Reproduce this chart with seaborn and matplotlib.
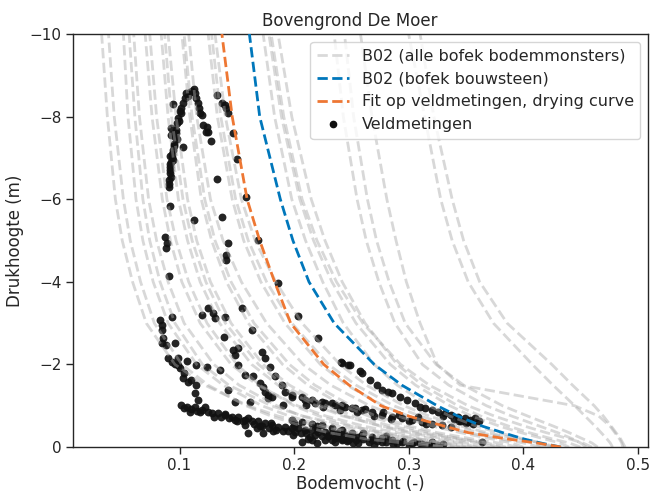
import matplotlib
matplotlib.use("Agg")
import matplotlib.pyplot as plt
import seaborn as sns
import pandas as pd
from matplotlib.lines import Line2D

# ---------------- data ----------------
# pressure heads (m) at which the retention curves were read
heads = [0, -0.1, -0.2, -0.35, -0.5, -0.75, -1, -1.5, -2, -3, -4, -5, -6, -8, -10]

# B02 bofek bouwsteen (blue) and field fit (orange): soil moisture at the heads above
bouwsteen = [0.433, 0.415, 0.400, 0.382, 0.365, 0.343, 0.325, 0.294, 0.270, 0.235, 0.213, 0.199, 0.188, 0.170, 0.161]
fit_veld = [0.433, 0.412, 0.385, 0.352, 0.332, 0.300, 0.276, 0.248, 0.226, 0.197, 0.183, 0.170, 0.159, 0.146, 0.137]

# B02, all bofek soil samples (grey curves)
gA1 = [0.330, 0.310, 0.285, 0.250, 0.222, 0.186, 0.160, 0.122, 0.096, 0.071, 0.059, 0.050, 0.044, 0.037, 0.032]
gA2 = [0.330, 0.295, 0.262, 0.230, 0.208, 0.180, 0.158, 0.125, 0.102, 0.078, 0.066, 0.057, 0.051, 0.043, 0.038]
gA3 = [0.345, 0.320, 0.292, 0.255, 0.228, 0.196, 0.172, 0.138, 0.115, 0.090, 0.077, 0.068, 0.062, 0.055, 0.051]
gA4 = [0.340, 0.328, 0.310, 0.280, 0.250, 0.208, 0.180, 0.143, 0.120, 0.096, 0.083, 0.074, 0.068, 0.061, 0.056]
gA5 = [0.355, 0.335, 0.305, 0.268, 0.240, 0.207, 0.185, 0.152, 0.130, 0.104, 0.090, 0.080, 0.073, 0.065, 0.060]
gB1 = [0.360, 0.345, 0.322, 0.290, 0.262, 0.228, 0.203, 0.168, 0.145, 0.118, 0.102, 0.092, 0.085, 0.076, 0.070]
gB2 = [0.350, 0.330, 0.305, 0.275, 0.252, 0.222, 0.200, 0.170, 0.150, 0.124, 0.108, 0.097, 0.089, 0.080, 0.074]
gB3 = [0.375, 0.360, 0.338, 0.305, 0.278, 0.243, 0.219, 0.186, 0.163, 0.135, 0.118, 0.107, 0.099, 0.090, 0.084]
gB4 = [0.365, 0.350, 0.330, 0.300, 0.276, 0.245, 0.223, 0.191, 0.169, 0.140, 0.123, 0.111, 0.103, 0.093, 0.087]
gB5 = [0.385, 0.368, 0.345, 0.312, 0.286, 0.252, 0.228, 0.196, 0.173, 0.145, 0.127, 0.115, 0.107, 0.097, 0.090]
gC1 = [0.380, 0.365, 0.345, 0.318, 0.295, 0.265, 0.243, 0.212, 0.190, 0.160, 0.141, 0.128, 0.119, 0.109, 0.102]
gC2 = [0.395, 0.378, 0.355, 0.325, 0.302, 0.272, 0.250, 0.218, 0.196, 0.165, 0.145, 0.131, 0.122, 0.111, 0.104]
gC3 = [0.400, 0.390, 0.372, 0.345, 0.322, 0.290, 0.266, 0.232, 0.208, 0.176, 0.154, 0.138, 0.127, 0.115, 0.108]
gC4 = [0.415, 0.400, 0.380, 0.352, 0.330, 0.300, 0.278, 0.246, 0.223, 0.192, 0.171, 0.156, 0.146, 0.133, 0.125]
gC5 = [0.420, 0.408, 0.390, 0.362, 0.340, 0.310, 0.287, 0.254, 0.230, 0.198, 0.176, 0.160, 0.149, 0.136, 0.128]
gC6 = [0.430, 0.415, 0.395, 0.368, 0.347, 0.318, 0.296, 0.263, 0.240, 0.207, 0.184, 0.166, 0.154, 0.140, 0.131]
gD1 = [0.425, 0.415, 0.400, 0.378, 0.360, 0.336, 0.318, 0.290, 0.270, 0.243, 0.225, 0.210, 0.198, 0.183, 0.173]
gD2 = [0.440, 0.432, 0.418, 0.398, 0.380, 0.355, 0.336, 0.306, 0.284, 0.254, 0.233, 0.217, 0.205, 0.189, 0.178]
gD3 = [0.460, 0.452, 0.440, 0.420, 0.402, 0.375, 0.352, 0.318, 0.293, 0.260, 0.237, 0.220, 0.207, 0.191, 0.180]
gD4 = [0.450, 0.440, 0.425, 0.405, 0.388, 0.363, 0.343, 0.312, 0.290, 0.262, 0.242, 0.227, 0.215, 0.198, 0.186]
gE1 = [0.455, 0.450, 0.443, 0.430, 0.415, 0.390, 0.368, 0.335, 0.312, 0.288, 0.274, 0.263, 0.255, 0.243, 0.235]
gE2 = [0.465, 0.460, 0.452, 0.440, 0.427, 0.404, 0.382, 0.348, 0.324, 0.297, 0.283, 0.272, 0.264, 0.252, 0.244]
gE3 = [0.487, 0.486, 0.484, 0.480, 0.476, 0.466, 0.445, 0.345, 0.325, 0.310, 0.298, 0.289, 0.281, 0.268, 0.258]
gE4 = [0.478, 0.476, 0.473, 0.468, 0.463, 0.454, 0.445, 0.426, 0.408, 0.374, 0.352, 0.338, 0.328, 0.314, 0.300]
gE5 = [0.489, 0.487, 0.485, 0.481, 0.477, 0.470, 0.462, 0.443, 0.425, 0.386, 0.362, 0.348, 0.338, 0.322, 0.310]
grey_curves = [gA1, gA2, gA3, gA4, gA5, gB1, gB2, gB3, gB4, gB5, gC1, gC2, gC3, gC4, gC5, gC6,
               gD1, gD2, gD3, gD4, gE1, gE2, gE3, gE4, gE5]

# field measurements (Veldmetingen), grouped by region of the plot
peak_x = [0.1125, 0.1060, 0.1046, 0.1032, 0.1017, 0.1011, 0.0989, 0.0974, 0.0965, 0.0959, 0.0954, 0.0945,
          0.0930, 0.0924, 0.0915, 0.0915, 0.0910, 0.0910, 0.0945, 0.0924, 0.0924, 0.0921, 0.1026, 0.1000,
          0.0970, 0.0935, 0.0920, 0.0912, 0.1134, 0.1148, 0.1157, 0.1169, 0.1177, 0.1192, 0.1207, 0.1236,
          0.1251, 0.1227, 0.1273, 0.1110, 0.1090, 0.1075, 0.0995, 0.0980, 0.0950, 0.0940, 0.0928, 0.0918]
peak_y = [-8.67, -8.57, -8.45, -8.33, -8.20, -8.08, -7.96, -7.84, -7.68, -7.52, -7.35, -7.19,
          -7.03, -6.91, -6.79, -6.63, -6.46, -6.30, -8.31, -7.72, -7.56, -7.05, -7.27, -8.14,
          -7.60, -7.10, -6.70, -6.38, -8.57, -8.45, -8.33, -8.20, -8.08, -8.04, -7.80, -7.76,
          -7.64, -7.64, -7.40, -8.62, -8.60, -8.50, -7.90, -7.45, -7.30, -6.95, -6.55, -6.85]

upper_x = [0.1329, 0.1367, 0.1396, 0.1410, 0.1425, 0.1463, 0.1504, 0.1323, 0.1367, 0.1128, 0.1579, 0.1686,
           0.0915, 0.0872, 0.0892, 0.0880, 0.0910, 0.1425, 0.1402, 0.1402, 0.1856, 0.2037, 0.2211,
           0.2409, 0.2473, 0.2575]
upper_y = [-8.53, -8.33, -8.28, -8.20, -8.08, -7.61, -6.97, -6.49, -5.58, -5.49, -6.06, -5.01,
           -5.83, -5.09, -4.94, -4.82, -4.15, -4.93, -4.66, -4.54, -3.97, -3.18, -2.64,
           -2.07, -1.99, -1.83]

middle_x = [0.0828, 0.0930, 0.0843, 0.1251, 0.1294, 0.1314, 0.1396, 0.1192, 0.1541, 0.1629, 0.1390, 0.0843,
            0.0858, 0.0843, 0.0886, 0.0959, 0.0901, 0.0930, 0.0989, 0.1003, 0.1061, 0.0989, 0.1032, 0.1076,
            0.1148, 0.1134, 0.1163, 0.1148, 0.1236, 0.1352, 0.1425, 0.1483, 0.1469, 0.1483, 0.1507, 0.1513,
            0.1570, 0.1644, 0.1716, 0.1745, 0.1789, 0.1832, 0.1701, 0.1731, 0.1745, 0.1775, 0.1803, 0.1775,
            0.1891, 0.1920, 0.1978, 0.1905, 0.1614, 0.0960, 0.1040, 0.1100]
middle_y = [-3.08, -3.14, -2.96, -3.37, -3.25, -3.12, -3.16, -3.20, -3.37, -2.84, -2.66, -2.84,
            -2.64, -2.52, -2.48, -2.53, -2.15, -2.07, -1.99, -1.91, -2.09, -2.15, -1.67, -1.58,
            -1.50, -1.30, -1.14, -1.99, -1.95, -1.87, -1.38, -1.08, -2.35, -2.23, -2.40, -1.99,
            -1.75, -1.71, -2.31, -2.15, -1.95, -1.71, -1.55, -1.46, -1.34, -1.26, -1.22, -1.18,
            -1.50, -1.34, -1.22, -1.02, -1.10, -2.02, -1.80, -1.62]

near_blue_x = [0.2415, 0.2487, 0.2590, 0.2663, 0.2721, 0.2764, 0.2823, 0.2852, 0.2924, 0.2983, 0.3055, 0.3098,
               0.3142, 0.3200, 0.3258, 0.3316, 0.3374, 0.3432, 0.3490, 0.3535, 0.3440, 0.3500, 0.3560, 0.3614,
               0.3580, 0.3638, 0.3400, 0.3460, 0.3520, 0.3300]
near_blue_y = [-2.03, -1.99, -1.79, -1.63, -1.50, -1.38, -1.34, -1.30, -1.22, -1.14, -1.06, -0.98,
               -0.94, -0.90, -0.86, -0.82, -0.78, -0.74, -0.70, -0.66, -0.62, -0.58, -0.55, -0.63,
               -0.70, -0.13, -0.68, -0.64, -0.60, -0.76]

trail_x = [0.2094, 0.2182, 0.2269, 0.2356, 0.2444, 0.2531, 0.1978, 0.2066, 0.2153, 0.2240, 0.2328, 0.2415,
           0.2502, 0.2590, 0.2677, 0.2764, 0.2852, 0.2939, 0.3026, 0.3113, 0.3200, 0.3288, 0.3374, 0.2100,
           0.2250, 0.2400, 0.2550, 0.2700, 0.2850, 0.3000, 0.3150, 0.2620, 0.2780, 0.2920, 0.3080]
trail_y = [-1.14, -1.06, -1.06, -1.02, -0.98, -0.94, -1.26, -1.22, -1.14, -1.10, -1.06, -1.02,
           -0.94, -0.90, -0.86, -0.78, -0.74, -0.70, -0.66, -0.61, -0.57, -0.53, -0.49, -1.02,
           -0.96, -0.90, -0.84, -0.76, -0.68, -0.62, -0.55, -0.92, -0.84, -0.78, -0.72]

low_x = [0.1017, 0.1061, 0.1090, 0.1134, 0.1177, 0.1221, 0.1280, 0.1338, 0.1396, 0.1454, 0.1513, 0.1570,
         0.1629, 0.1687, 0.1745, 0.1803, 0.1862, 0.1920, 0.1978, 0.2037, 0.2094, 0.2153, 0.2211, 0.2269,
         0.2328, 0.2386, 0.2444, 0.2503, 0.2561, 0.1300, 0.1500, 0.1700, 0.1900, 0.2100, 0.2300, 0.2500,
         0.1570, 0.1600, 0.1730, 0.2066, 0.2138, 0.2269, 0.2328, 0.2386, 0.2473, 0.2561, 0.2153, 0.2356,
         0.2415, 0.2487, 0.2517, 0.2677, 0.2764, 0.2800, 0.2900, 0.3000, 0.3100, 0.3200, 0.3250, 0.3300,
         0.2700, 0.1100, 0.1200, 0.1400, 0.1600, 0.1800, 0.2000, 0.2200, 0.2400]
low_y = [-1.02, -0.98, -0.86, -0.98, -0.86, -0.98, -0.82, -0.82, -0.78, -0.74, -0.74, -0.66,
         -0.62, -0.62, -0.58, -0.53, -0.49, -0.49, -0.45, -0.45, -0.41, -0.41, -0.37, -0.37,
         -0.33, -0.33, -0.29, -0.29, -0.25, -0.72, -0.64, -0.50, -0.40, -0.33, -0.27, -0.22,
         -0.53, -0.33, -0.35, -0.13, -0.25, -0.17, -0.17, -0.25, -0.17, -0.09, -0.17, -0.13,
         -0.17, -0.25, -0.09, -0.17, -0.13, -0.12, -0.10, -0.06, -0.10, -0.12, -0.04, -0.08,
         -0.06, -0.92, -0.90, -0.80, -0.70, -0.58, -0.52, -0.44, -0.36]

# second, slightly lower row of the dense band
low2_x = [0.1040, 0.1150, 0.1250, 0.1360, 0.1430, 0.1480, 0.1550, 0.1650, 0.1720, 0.1780, 0.1840, 0.1950,
          0.2010, 0.2060, 0.2180, 0.2240, 0.2300, 0.2360, 0.2420, 0.2460, 0.2540, 0.2600, 0.2650, 0.2720,
          0.2860, 0.2950, 0.3050, 0.3150, 0.3280, 0.1680, 0.1820, 0.1990, 0.2120, 0.2200]
low2_y = [-0.95, -0.88, -0.86, -0.74, -0.70, -0.66, -0.62, -0.55, -0.52, -0.47, -0.42, -0.40,
          -0.36, -0.34, -0.30, -0.28, -0.26, -0.22, -0.20, -0.14, -0.16, -0.20, -0.12, -0.15,
          -0.08, -0.14, -0.13, -0.05, -0.03, -0.45, -0.38, -0.30, -0.20, -0.09]

lower_trail_x = [0.1978, 0.2066, 0.2153, 0.2240, 0.2328, 0.2415, 0.2502, 0.2590, 0.2677, 0.2764, 0.2852,
                 0.2939, 0.3026, 0.3113, 0.3200, 0.2000, 0.2200, 0.2400, 0.2600, 0.2800]
lower_trail_y = [-0.66, -0.61, -0.57, -0.53, -0.45, -0.41, -0.33, -0.29, -0.25, -0.21, -0.17,
                 -0.13, -0.09, -0.07, -0.05, -0.58, -0.50, -0.40, -0.33, -0.26]

# ---------------- build tables ----------------
grey_rows = []
for i, curve in enumerate(grey_curves):
    for h, th in zip(heads, curve):
        grey_rows.append({"curve": i, "theta": th, "h": h})
grey_df = pd.DataFrame(grey_rows)
blue_df = pd.DataFrame({"theta": bouwsteen, "h": heads})
orange_df = pd.DataFrame({"theta": fit_veld, "h": heads})
meas_df = pd.DataFrame({
    "theta": peak_x + upper_x + middle_x + near_blue_x + trail_x + low_x + low2_x + lower_trail_x,
    "h": peak_y + upper_y + middle_y + near_blue_y + trail_y + low_y + low2_y + lower_trail_y,
})

# ---------------- plot ----------------
sns.set_context("notebook")
sns.set_style("ticks")
plt.rcParams["font.family"] = ["DejaVu Sans"]

blue_c = "#0077BB"
orange_c = "#EE7733"
grey_c = "#a9a9a9"

fig, ax = plt.subplots(figsize=(6.5, 4.94), dpi=100)
fig.subplots_adjust(left=0.1123, right=0.997, top=0.931, bottom=0.095)

sns.scatterplot(data=meas_df, x="theta", y="h", color="#111111", s=32, linewidth=0,
                alpha=0.92, ax=ax, legend=False, zorder=1)
sns.lineplot(data=grey_df, x="theta", y="h", units="curve", estimator=None, sort=False,
             color=grey_c, alpha=0.45, lw=2, linestyle="--", ax=ax, legend=False, zorder=2)
sns.lineplot(data=blue_df, x="theta", y="h", estimator=None, sort=False,
             color=blue_c, lw=2, linestyle="--", ax=ax, legend=False, zorder=3)
sns.lineplot(data=orange_df, x="theta", y="h", estimator=None, sort=False,
             color=orange_c, lw=2, linestyle="--", ax=ax, legend=False, zorder=3)

ax.set_xlim(0.007, 0.509)
ax.set_ylim(0, -10)
ax.set_xticks([0.1, 0.2, 0.3, 0.4, 0.5])
ax.set_yticks([0, -2, -4, -6, -8, -10])
ax.tick_params(width=1, length=5, pad=3)
for sp in ax.spines.values():
    sp.set_linewidth(1)
ax.set_xlabel("Bodemvocht (-)", labelpad=1)
ax.set_ylabel("Drukhoogte (m)")
ax.set_title("Bovengrond De Moer", fontsize=12, x=0.481)

handles = [
    Line2D([], [], color="#d9d9d9", lw=2, ls="--"),
    Line2D([], [], color=blue_c, lw=2, ls="--"),
    Line2D([], [], color=orange_c, lw=2, ls="--"),
    Line2D([], [], color="#111111", marker="o", ls="none", markersize=4.5),
]
labels = ["B02 (alle bofek bodemmonsters)", "B02 (bofek bouwsteen)",
          "Fit op veldmetingen, drying curve", "Veldmetingen"]
ax.legend(handles, labels, loc="upper right", fontsize=11.5)

fig.savefig("out.png", dpi=100)
